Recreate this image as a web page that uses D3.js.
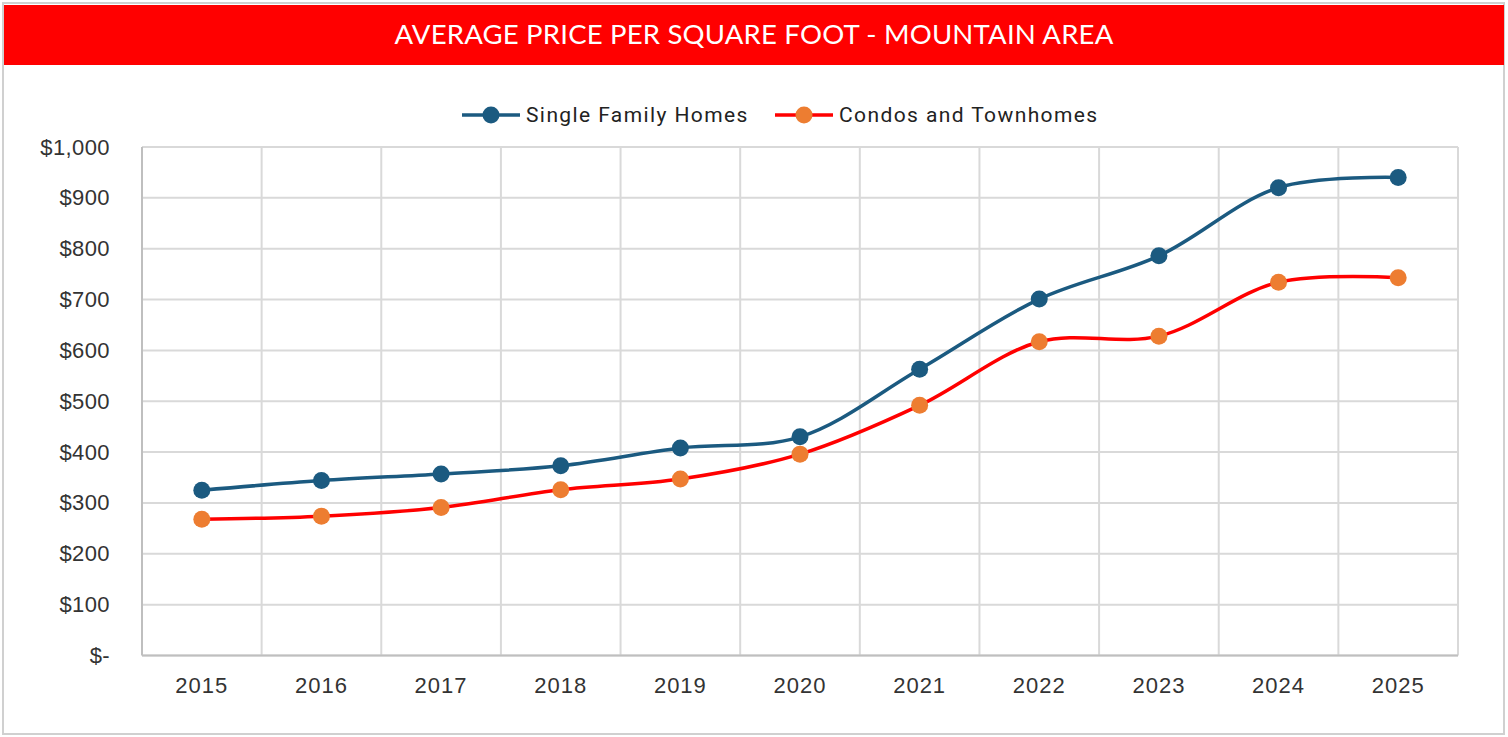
<!DOCTYPE html>
<html>
<head>
<meta charset="utf-8">
<script src="https://cdn.jsdelivr.net/npm/d3@7"></script>
<style>
  body { margin: 0; background: #fff; }
  svg { display: block; }
</style>
</head>
<body>
<svg id="chart" width="1508" height="737"></svg>
<script>
// chart data
var years = ["2015", "2016", "2017", "2018", "2019", "2020", "2021", "2022", "2023", "2024", "2025"];
var singleFamily = [325, 344, 357, 373, 408, 430, 563, 701, 786, 920, 940];
var condos = [268, 274, 291, 326, 347, 396, 492, 617, 628, 734, 743];
var yTicks = [0, 100, 200, 300, 400, 500, 600, 700, 800, 900, 1000];
var seriesNames = ["Single Family Homes", "Condos and Townhomes"];

var svg = d3.select("#chart");

// outer frame
svg.append("rect")
    .attr("x", 3).attr("y", 3)
    .attr("width", 1501).attr("height", 731)
    .attr("fill", "#fff")
    .attr("stroke", "#d0d0d0")
    .attr("stroke-width", 2);

// title bar
svg.append("rect")
    .attr("x", 4).attr("y", 5)
    .attr("width", 1500).attr("height", 60)
    .attr("fill", "#ff0000");
svg.append("text")
    .attr("x", 754).attr("y", 44)
    .attr("text-anchor", "middle")
    .attr("fill", "#fff")
    .style("font-family", "Lato, 'Open Sans', sans-serif")
    .style("font-size", "27.5px")
    .style("letter-spacing", "0.2px")
    .text("AVERAGE PRICE PER SQUARE FOOT - MOUNTAIN AREA");

var margin = {left: 142, right: 1458, top: 147, bottom: 655.5};

var x = d3.scaleBand()
    .domain(years)
    .range([margin.left, margin.right]);

var y = d3.scaleLinear()
    .domain([0, 1000])
    .range([margin.bottom, margin.top]);

// grid
var grid = svg.append("g").attr("id", "grid");
grid.selectAll("line.h")
    .data(yTicks)
    .enter()
    .append("line")
    .attr("class", "h")
    .attr("x1", margin.left)
    .attr("x2", margin.right)
    .attr("y1", function(d) { return y(d); })
    .attr("y2", function(d) { return y(d); })
    .attr("stroke", "#d9d9d9")
    .attr("stroke-width", 2);
grid.selectAll("line.v")
    .data(years.slice(1).concat(["end"]))
    .enter()
    .append("line")
    .attr("class", "v")
    .attr("x1", function(d, i) { return margin.left + x.step() * (i + 1); })
    .attr("x2", function(d, i) { return margin.left + x.step() * (i + 1); })
    .attr("y1", margin.top)
    .attr("y2", margin.bottom)
    .attr("stroke", "#d9d9d9")
    .attr("stroke-width", 2);

// axes lines
svg.append("line")
    .attr("x1", margin.left).attr("x2", margin.left)
    .attr("y1", margin.top).attr("y2", margin.bottom)
    .attr("stroke", "#bfbfbf").attr("stroke-width", 2);
svg.append("line")
    .attr("x1", margin.left).attr("x2", margin.right)
    .attr("y1", margin.bottom).attr("y2", margin.bottom)
    .attr("stroke", "#bfbfbf").attr("stroke-width", 2);

// y axis labels
var yAxis = d3.axisLeft(y)
    .tickValues(yTicks)
    .tickSize(0)
    .tickPadding(32)
    .tickFormat(function(d) { return d === 0 ? "$-" : "$" + d3.format(",")(d); });
var gy = svg.append("g")
    .attr("transform", "translate(" + margin.left + ",0)")
    .call(yAxis);
gy.select(".domain").remove();
gy.selectAll("text")
    .attr("fill", "#333")
    .style("font-family", "'Liberation Sans', Arial, sans-serif")
    .style("font-size", "22px")
    .style("letter-spacing", "0.4px");

// x axis labels
var xAxis = d3.axisBottom(x).tickSize(0).tickPadding(22);
var gx = svg.append("g")
    .attr("transform", "translate(0," + margin.bottom + ")")
    .call(xAxis);
gx.select(".domain").remove();
gx.selectAll("text")
    .attr("fill", "#333")
    .style("font-family", "'Liberation Sans', Arial, sans-serif")
    .style("font-size", "22px")
    .style("letter-spacing", "1px");

// lines
var series = [
    {name: seriesNames[0], values: singleFamily, line: "#1b5a80", marker: "#1b5a80"},
    {name: seriesNames[1], values: condos, line: "#ff0000", marker: "#ed7d31"}
];

var lineGen = d3.line()
    .x(function(d, i) { return x(years[i]) + x.bandwidth() / 2; })
    .y(function(d) { return y(d); })
    .curve(d3.curveCatmullRom.alpha(0.5));

series.forEach(function(s) {
    var g = svg.append("g");
    g.append("path")
        .attr("d", lineGen(s.values))
        .attr("fill", "none")
        .attr("stroke", s.line)
        .attr("stroke-width", 3.5);
    g.selectAll("circle")
        .data(s.values)
        .enter()
        .append("circle")
        .attr("cx", function(d, i) { return x(years[i]) + x.bandwidth() / 2; })
        .attr("cy", function(d) { return y(d); })
        .attr("r", 8.5)
        .attr("fill", s.marker);
});

// legend
var legendX = [462, 775];
series.forEach(function(s, i) {
    var g = svg.append("g").attr("transform", "translate(" + legendX[i] + ",115)");
    g.append("line")
        .attr("x1", 0).attr("x2", 58)
        .attr("stroke", s.line).attr("stroke-width", 3.5);
    g.append("circle")
        .attr("cx", 29).attr("r", 8.5).attr("fill", s.marker);
    g.append("text")
        .attr("x", 64).attr("y", 7)
        .attr("fill", "#222")
        .style("font-family", "Roboto, sans-serif")
        .style("font-size", "21px")
        .style("letter-spacing", "1.4px")
        .text(s.name);
});
</script>
</body>
</html>
